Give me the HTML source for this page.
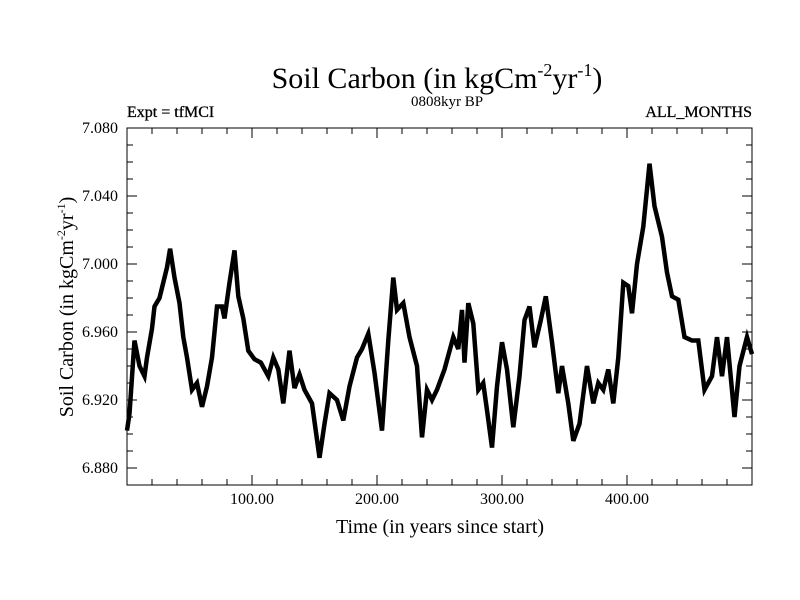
<!DOCTYPE html>
<html><head><meta charset="utf-8"><style>
html,body{margin:0;padding:0;background:#fff;}
svg{display:block;font-family:"Liberation Serif",serif;}
</style></head><body>
<svg id="chart" width="800" height="600" viewBox="0 0 800 600">
<rect x="0" y="0" width="800" height="600" fill="#fff"/>
<text x="437" y="88" font-size="30" text-anchor="middle">Soil Carbon (in kgCm<tspan font-size="18" dy="-12">-2</tspan><tspan dy="12">yr</tspan><tspan font-size="18" dy="-12">-1</tspan><tspan dy="12">)</tspan></text>
<text x="127" y="117" font-size="16" stroke="#000" stroke-width="0.3">Expt = tfMCI</text>
<text x="447" y="106" font-size="15" text-anchor="middle">0808kyr BP</text>
<text x="752" y="117" font-size="16" text-anchor="end" stroke="#000" stroke-width="0.3">ALL_MONTHS</text>
<text x="440" y="533" font-size="20" text-anchor="middle">Time (in years since start)</text>
<text transform="translate(73,307) rotate(-90)" font-size="20" text-anchor="middle">Soil Carbon (in kgCm<tspan font-size="12" dy="-8">-2</tspan><tspan dy="8">yr</tspan><tspan font-size="12" dy="-8">-1</tspan><tspan dy="8">)</tspan></text>
<g id="axes"></g>
<path id="series" fill="none" stroke="#000" stroke-width="4.5" stroke-linejoin="miter"/>
<rect x="127" y="128" width="625" height="357" fill="none" stroke="#000" stroke-width="1"/>
</svg>
<script>
const times = [0,2,6,10,14,16,20,22,26,28,32,34.5,38,42,45,48,52,56,60,64,68,72,76,78,82,86,89,93,97,102,107,113,117,121,125,130,134,138,142,148,154,158,162,168,173,178,184,188,193,198,204,209,213,216,221,226,232,236,240,244,248,254,261,265,268,270,273,277,281,285,288,292,296,300,304,309,314,318,322,326,331,335,340,345,348,353,357,362,368,373,377,381,385,389,393,397,401,404,408,413,418,422,428,432,436,441,446,452,457,462,468,472,476,480,486,490,496,500];
const values = [6.902,6.912,6.955,6.94,6.934,6.945,6.962,6.975,6.980,6.986,6.998,7.009,6.992,6.977,6.957,6.945,6.926,6.930,6.916,6.928,6.945,6.975,6.975,6.968,6.989,7.008,6.981,6.968,6.949,6.944,6.942,6.934,6.945,6.938,6.918,6.949,6.927,6.935,6.926,6.918,6.886,6.906,6.924,6.920,6.908,6.928,6.945,6.950,6.959,6.936,6.902,6.955,6.992,6.973,6.977,6.957,6.940,6.898,6.926,6.920,6.926,6.938,6.957,6.950,6.973,6.942,6.977,6.965,6.926,6.930,6.914,6.892,6.928,6.954,6.938,6.904,6.934,6.967,6.975,6.951,6.967,6.981,6.954,6.924,6.940,6.918,6.896,6.906,6.940,6.918,6.930,6.926,6.938,6.918,6.945,6.989,6.987,6.971,7.000,7.022,7.059,7.034,7.016,6.995,6.981,6.979,6.957,6.955,6.955,6.926,6.934,6.957,6.934,6.957,6.910,6.940,6.957,6.947];
const xTickValues = [100,200,300,400];
const xTickLabels = ["100.00","200.00","300.00","400.00"];
const yTickValues = [6.88,6.92,6.96,7.00,7.04,7.08];
const yTickLabels = ["6.880","6.920","6.960","7.000","7.040","7.080"];

const X0=127,X1=752,Y0=485,Y1=128,TMIN=0,TMAX=500,VMIN=6.87,VMAX=7.08;
function xs(t){return X0+(t-TMIN)/(TMAX-TMIN)*(X1-X0);}
function ys(v){return Y0-(v-VMIN)/(VMAX-VMIN)*(Y0-Y1);}
const NS='http://www.w3.org/2000/svg';
const axes=document.getElementById('axes');
function line(x1,y1,x2,y2,name){
  const l=document.createElementNS(NS,'line');
  l.setAttribute('x1',x1);l.setAttribute('y1',y1);l.setAttribute('x2',x2);l.setAttribute('y2',y2);
  l.setAttribute('stroke','#000');l.setAttribute('stroke-width','1');
  
  
  axes.appendChild(l);
}
function text(x,y,s,anchor,name){
  const t=document.createElementNS(NS,'text');
  t.setAttribute('x',x);t.setAttribute('y',y);t.setAttribute('font-size','16');t.setAttribute('text-anchor',anchor);
  t.textContent=s;
  
  
  axes.appendChild(t);
}
for(let t=20;t<TMAX;t+=20){
  const x=xs(t);const big=xTickValues.includes(t);const L=big?10:6;
  line(x,Y0,x,Y0-L,'x-tick');
  line(x,Y1,x,Y1+L,'x-tick-top');
}
xTickValues.forEach((t,i)=>text(xs(t),504,xTickLabels[i],'middle','x-tick-label'));
for(let k=0;k<=21;k++){
  const v=VMIN+k*0.01;const big=yTickValues.some(a=>Math.abs(a-v)<1e-6);const L=big?10:6;
  const y=ys(v);
  line(X0,y,X0+L,y,'y-tick');
  line(X1,y,X1-L,y,'y-tick-right');
}
yTickValues.forEach((v,i)=>text(118,ys(v)+5,yTickLabels[i],'end','y-tick-label'));
let d='';
times.forEach((t,i)=>{d+=(i?'L':'M')+xs(t).toFixed(1)+','+ys(values[i]).toFixed(1);});
document.getElementById('series').setAttribute('d',d);
</script>
</body></html>
